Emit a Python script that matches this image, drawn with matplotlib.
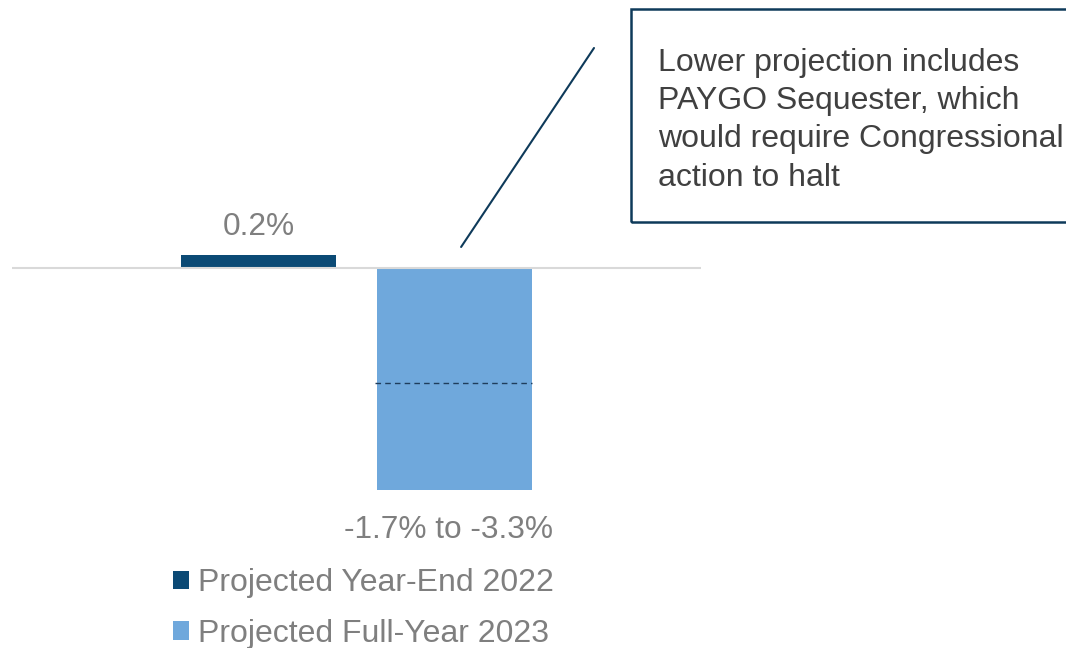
import matplotlib
matplotlib.use("Agg")
import matplotlib.pyplot as plt
from matplotlib.patches import Rectangle

# data
series = ["Projected Year-End 2022", "Projected Full-Year 2023"]
values = [0.2, -3.3]
range_high = -1.7
bar_labels = ["0.2%", "-1.7% to -3.3%"]
note = ("Lower projection includes\nPAYGO Sequester, which\n"
        "would require Congressional\naction to halt")
colors = ["#0b4a75", "#6fa8dc"]

W, H = 1066, 648
plt.rcParams["font.family"] = ["Liberation Sans", "DejaVu Sans"]
fig = plt.figure(figsize=(W / 100, H / 100), dpi=100)
ax = fig.add_axes([12 / W, 0, 689 / W, 1])
ax.set_xlim(-1.261, 2.263)
ax.set_ylim(-5.655, 4.0)
ax.axis("off")

bars = ax.bar(range(len(values)), values, width=0.793, color=colors, zorder=2)
ax.axhline(0, color="#d9d9d9", lw=1.5, zorder=3)

# dashed marker for the upper end of the 2023 range
b = bars.patches[1]
ax.hlines(range_high, b.get_x() - 0.01, b.get_x() + b.get_width(),
          colors="#1f3d5c", linestyles=(0, (4, 3)), lw=1, zorder=4)

# value labels
ax.annotate(bar_labels[0], (0, values[0]), xytext=(0, 20), textcoords="offset pixels",
            ha="center", va="baseline", fontsize=22.8, color="#7f7f7f")
ax.annotate(bar_labels[1], (1, values[1]), xytext=(-6, -48), textcoords="offset pixels",
            ha="center", va="baseline", fontsize=22.8, color="#7f7f7f")

# legend
ax.legend(bars.patches, series, loc="upper left",
          bbox_to_anchor=(173 / W, 1 - 568 / H), bbox_transform=fig.transFigure,
          frameon=False, fontsize=23, labelcolor="#7f7f7f",
          handlelength=0.5, handleheight=0.5, handletextpad=0.28,
          labelspacing=0.65, borderpad=0, borderaxespad=0)

# callout box
fig.add_artist(Rectangle((631 / W, 1 - 222 / H), (1100 - 631) / W, (222 - 9) / H,
                         transform=fig.transFigure, fill=False,
                         ec="#0e3a5a", lw=1.8))
fig.text(658 / W, 1 - 185.5 / H, note, ha="left", va="baseline", fontsize=23,
         color="#404040", linespacing=1.35)

ax.annotate("", xy=(1.036, 0.32), xycoords="data",
            xytext=(594, H - 48), textcoords="figure pixels",
            arrowprops=dict(arrowstyle="-", color="#0e3a5a", lw=1.5,
                            shrinkA=0, shrinkB=0))

fig.savefig("out.png", dpi=100)
